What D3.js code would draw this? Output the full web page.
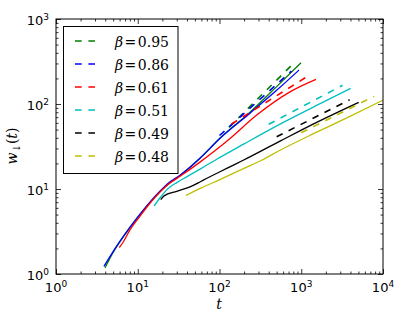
<!DOCTYPE html>
<html><head><meta charset="utf-8">
<script src="https://cdn.jsdelivr.net/npm/d3@7"></script>
<style>body{margin:0;background:#fff}svg{display:block}</style>
</head><body>
<svg id="c" width="399" height="319"></svg>
<script>
// ---- data ----
const betaLabels = ["0.95","0.86","0.61","0.51","0.49","0.48"];
const colors = ["#008000","#0000ff","#ff0000","#00bfbf","#000000","#bfbf00"];
const solidGreen = [[3.98,1.18],[4.84,1.7],[6.07,2.4],[8.04,3.52],[10.66,5.0],[14.1,6.95],[18.7,9.35],[23.4,11.3],[32.9,14.4],[57.7,23],[101,39.5],[236,80],[500,160],[993,305]];
const solidBlue = [[3.86,1.23],[4.84,1.75],[6.07,2.43],[8.04,3.55],[10.66,5.05],[14.1,7.0],[18.7,9.4],[23.4,11.6],[32.9,14.5],[57.7,23],[101,39.3],[236,78],[500,145],[940,251]];
const solidRed = [[5.95,2.05],[6.5,2.3],[8.04,3.3],[10.66,4.8],[14.1,6.8],[18.7,9.2],[23.4,11.3],[32.9,14.1],[57.7,20.7],[128,37.6],[285,74],[728,139],[1513,195]];
const solidCyan = [[15.8,6.3],[19,8.0],[22,9.5],[25,10.6],[30,11.9],[40,14.0],[60,17.5],[92.4,22.4],[200,34],[550,58],[1500,95],[4027,153]];
const solidBlack = [[19.1,7.5],[21,8.3],[30,9.4],[43.6,10.6],[55,11.8],[63.4,12.7],[134,18.2],[195,21.8],[550,36.6],[1500,60],[5045,104.6]];
const solidYellow = [[38.9,8.4],[60,10.3],[101,12.9],[200,17.5],[328,21.8],[550,28.6],[1500,46],[4000,72],[10000,111]];
const dashGreen = [[130,53],[750,281]];
const dashBlue = [[100,42.6],[760,244]];
const dashRed = [[140,58],[1150,207]];
const dashCyan = [[400,57.7],[3200,166]];
const dashBlack = [[500,41.2],[3900,112]];
const dashYellow = [[1000,46],[7800,123]];
const xTickExps = [0,1,2,3,4];
const yTickExps = [0,1,2,3];

const solids = [solidGreen, solidBlue, solidRed, solidCyan, solidBlack, solidYellow];
const dashes = [dashGreen, dashBlue, dashRed, dashCyan, dashBlack, dashYellow];

// ---- layout ----
const L=56, R=383, T=19, B=274;
const svg = d3.select("#c");
const x = d3.scaleLog().domain([1,1e4]).range([L,R]);
const y = d3.scaleLog().domain([1,1e3]).range([B,T]);

svg.append("clipPath").attr("id","clip").append("rect")
  .attr("x",L).attr("y",T).attr("width",R-L).attr("height",B-T);

const line = d3.line().x(d=>x(d[0])).y(d=>y(d[1])).curve(d3.curveMonotoneX);
const g = svg.append("g").attr("clip-path","url(#clip)");

for (let i=0;i<solids.length;i++){
  g.append("path").datum(dashes[i]).attr("d",line)
    .attr("fill","none").attr("stroke",colors[i]).attr("stroke-width",1.6)
    .attr("stroke-dasharray","6.7,6.7");
  g.append("path").datum(solids[i]).attr("d",line)
    .attr("fill","none").attr("stroke",colors[i]).attr("stroke-width",1.3);
}

// ticks
const majX = xTickExps.map(e=>Math.pow(10,e));
const minX = [];
for (let e=0;e<4;e++) for (let k=2;k<10;k++) minX.push(k*Math.pow(10,e));
const majY = yTickExps.map(e=>Math.pow(10,e));
const minY = [];
for (let e=0;e<3;e++) for (let k=2;k<10;k++) minY.push(k*Math.pow(10,e));

function ax(axisFn, scale, vals, size, tr){
  const a = axisFn(scale).tickValues(vals).tickSize(size).tickFormat("").tickSizeOuter(0);
  const gg = svg.append("g").attr("transform",tr).call(a);
  gg.select(".domain").remove();
  gg.selectAll("line").attr("stroke","#000").attr("stroke-width",0.8);
}
ax(d3.axisBottom,x,majX,-5,`translate(0,${B})`);
ax(d3.axisBottom,x,minX,-2.5,`translate(0,${B})`);
ax(d3.axisTop,x,majX,-5,`translate(0,${T})`);
ax(d3.axisTop,x,minX,-2.5,`translate(0,${T})`);
ax(d3.axisLeft,y,majY,-5,`translate(${L},0)`);
ax(d3.axisLeft,y,minY,-2.5,`translate(${L},0)`);
ax(d3.axisRight,y,majY,-5,`translate(${R},0)`);
ax(d3.axisRight,y,minY,-2.5,`translate(${R},0)`);

svg.append("rect").attr("x",L).attr("y",T).attr("width",R-L).attr("height",B-T)
  .attr("fill","none").attr("stroke","#000").attr("stroke-width",1);

// tick labels
const font = "'DejaVu Sans', sans-serif";
xTickExps.forEach(e=>{
  const t = svg.append("text").attr("x",x(Math.pow(10,e))).attr("y",292)
    .attr("text-anchor","middle").attr("font-family",font).attr("font-size",13);
  t.append("tspan").text("10");
  t.append("tspan").attr("dy",-5).attr("font-size",9).text(String(e));
});
yTickExps.forEach(e=>{
  const t = svg.append("text").attr("x",49).attr("y",y(Math.pow(10,e))+6)
    .attr("text-anchor","end").attr("font-family",font).attr("font-size",13);
  t.append("tspan").text("10");
  t.append("tspan").attr("dy",-5).attr("font-size",9).text(String(e));
});

// axis labels
const serif = "'DejaVu Serif', serif";
svg.append("text").attr("x",219).attr("y",309).attr("text-anchor","middle")
  .attr("font-family",serif).attr("font-style","italic").attr("font-size",14).text("t");
const yl = svg.append("text").attr("transform","translate(17,146) rotate(-90)")
  .attr("text-anchor","middle").attr("font-family",serif).attr("font-size",14);
yl.append("tspan").attr("font-style","italic").text("w");
yl.append("tspan").attr("dy",3).attr("font-size",10).text("↓");
yl.append("tspan").attr("dy",-3).text("(");
yl.append("tspan").attr("font-style","italic").text("t");
yl.append("tspan").text(")");

// legend
svg.append("rect").attr("x",63.5).attr("y",26.5).attr("width",114.5).attr("height",147)
  .attr("fill","#fff").attr("stroke","#000").attr("stroke-width",1);
betaLabels.forEach((b,i)=>{
  const yy = 41 + i*23;
  svg.append("line").attr("x1",75).attr("x2",95).attr("y1",yy).attr("y2",yy)
    .attr("stroke",colors[i]).attr("stroke-width",1.6).attr("stroke-dasharray","6.7,6.7");
  const t = svg.append("text").attr("x",115).attr("y",yy+5.5)
    .attr("font-family",serif).attr("font-size",14);
  t.append("tspan").attr("font-style","italic").text("β");
  t.append("tspan").attr("dx",1.5).text("=");
  t.append("tspan").attr("dx",1.5).text(b);
});
</script>
</body></html>
